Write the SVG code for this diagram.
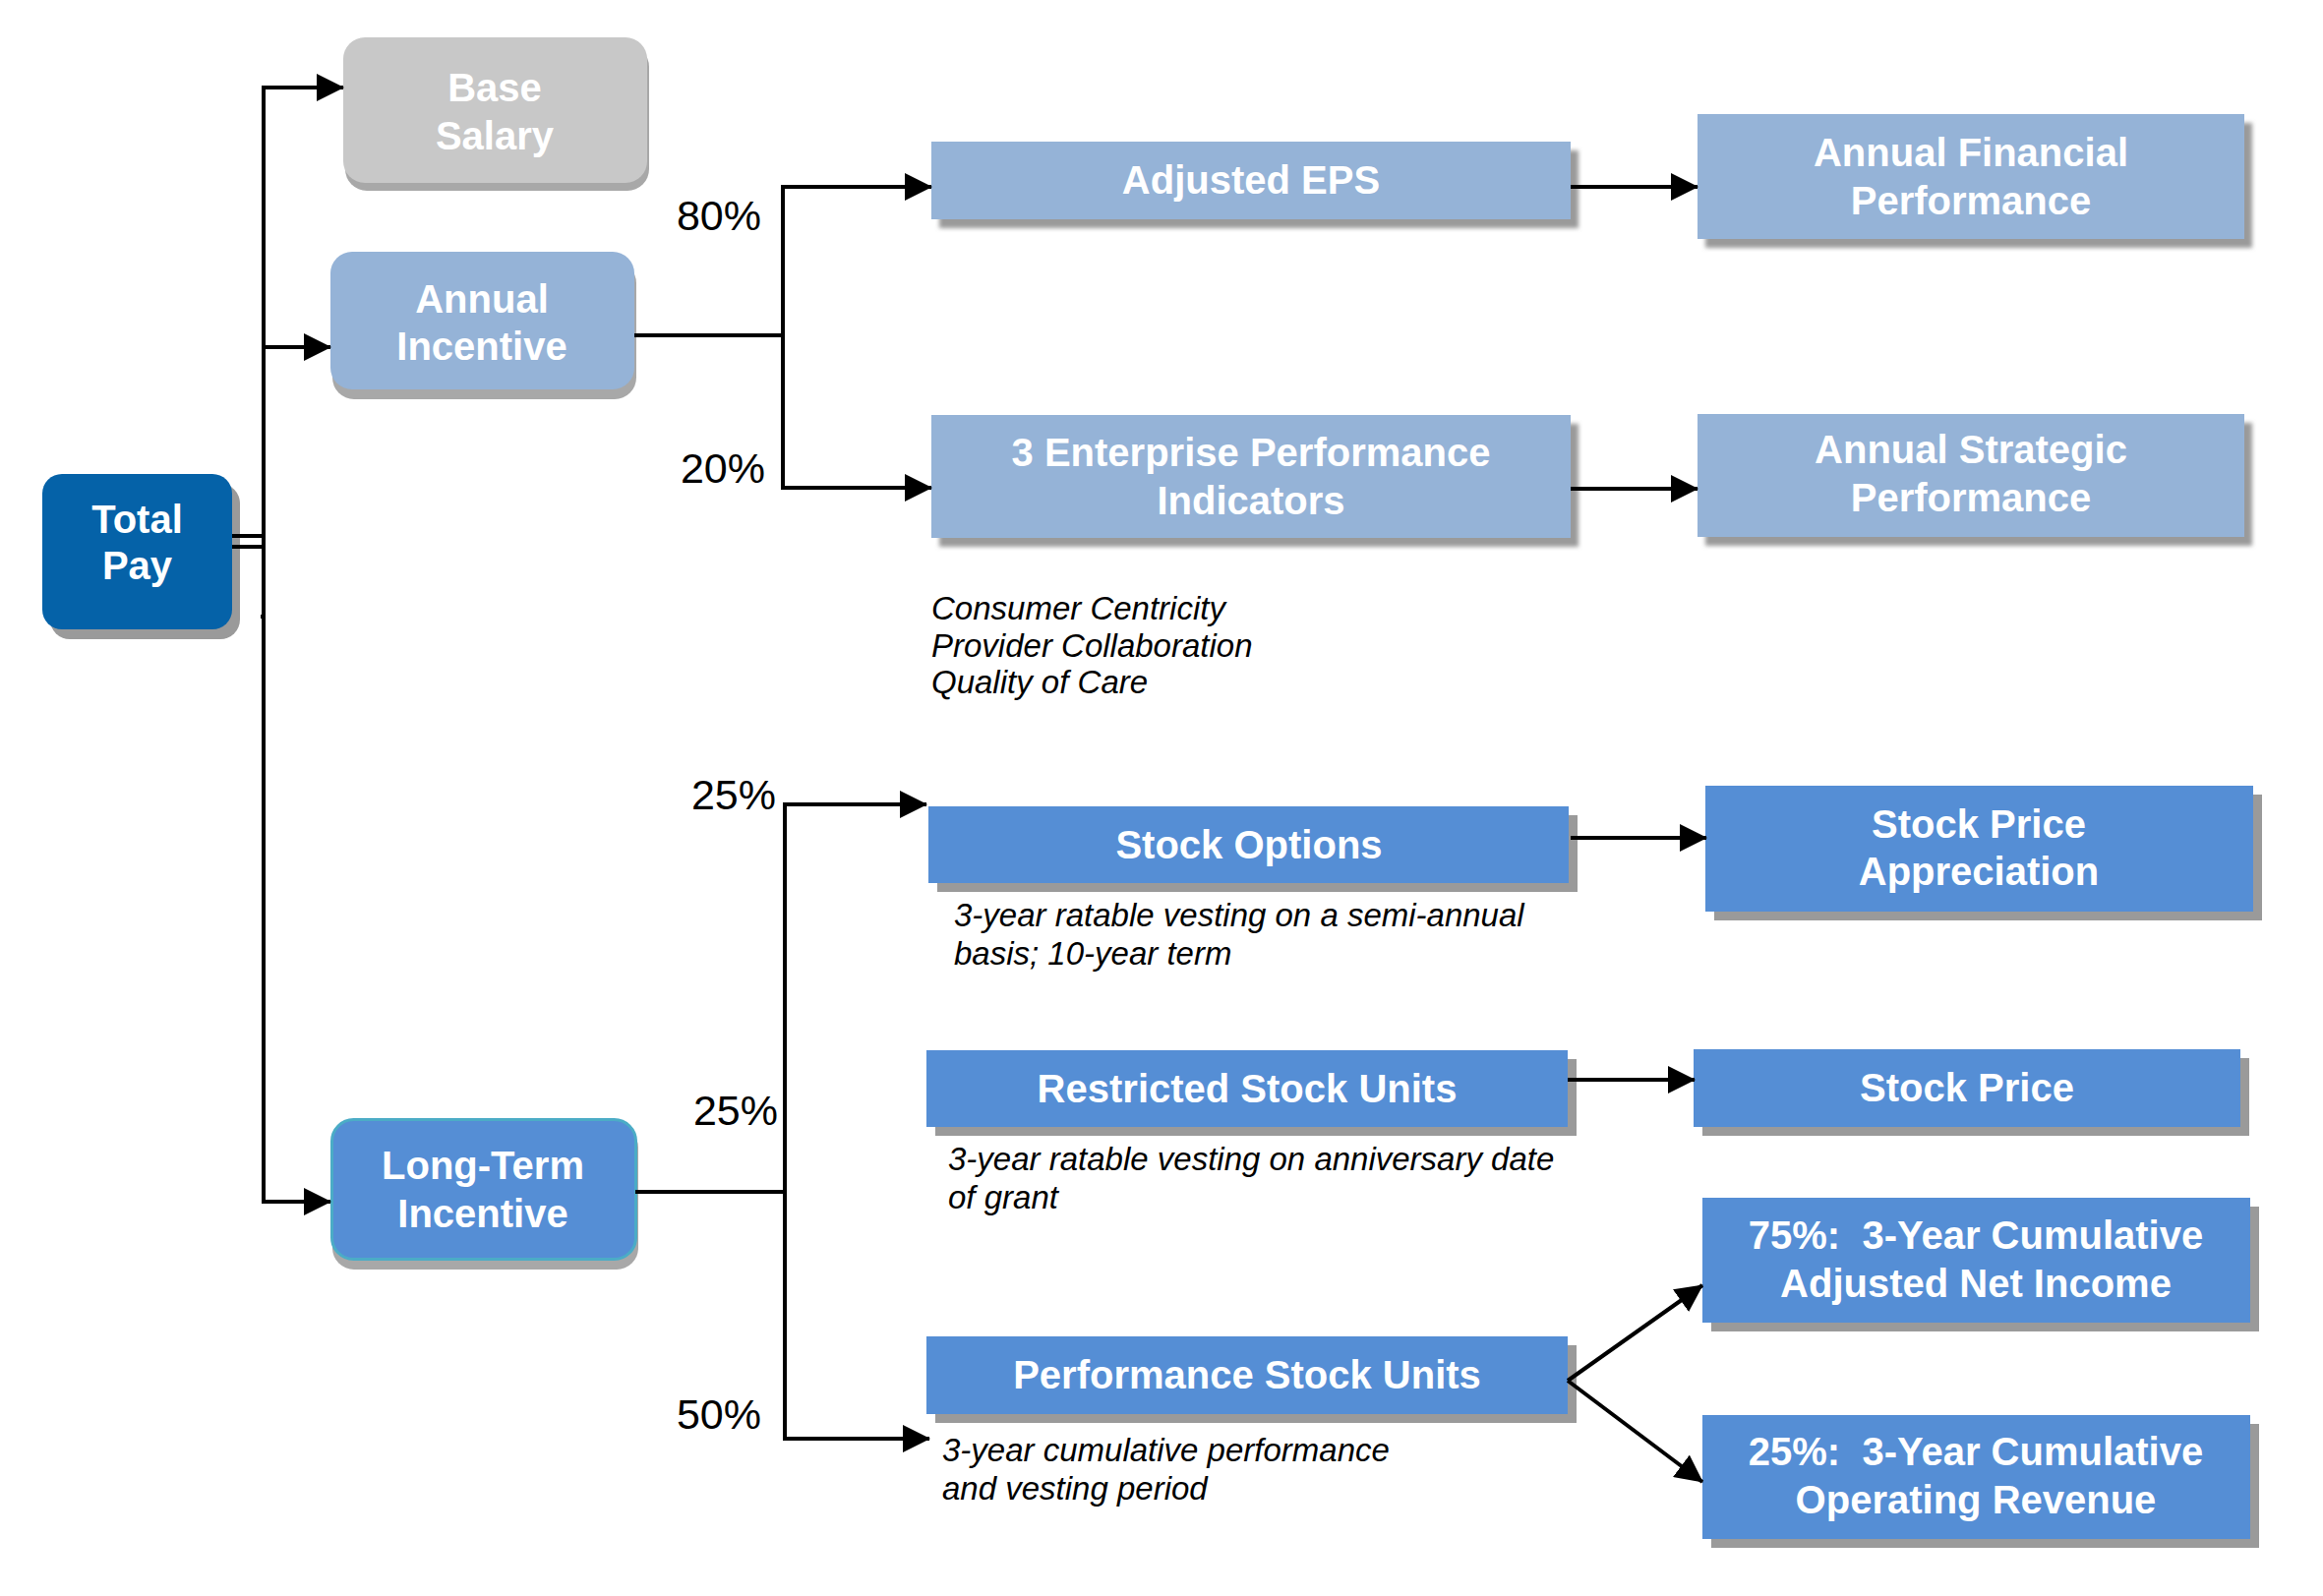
<svg xmlns="http://www.w3.org/2000/svg" width="2362" height="1623" viewBox="0 0 2362 1623">
<defs>
<style>
.lbl{font-family:"Liberation Sans",Arial,sans-serif;font-weight:bold;font-size:40px;fill:#fff;text-anchor:middle}
.pct{font-family:"Liberation Sans",Arial,sans-serif;font-size:43px;fill:#000;text-anchor:end}
.note{font-family:"Liberation Sans",Arial,sans-serif;font-style:italic;font-size:33px;fill:#000}
.sh{fill:#9a9a9a}
.lb{fill:#95B3D7}
.mb{fill:#558ED5}
.conn{fill:none;stroke:#000;stroke-width:4}
</style>
<filter id="blur" x="-5%" y="-10%" width="110%" height="120%"><feGaussianBlur stdDeviation="2"/></filter>
<marker id="ah" markerUnits="userSpaceOnUse" markerWidth="28" markerHeight="28" viewBox="0 0 28 28" refX="27" refY="14" orient="auto"><path d="M0,0 L28,14 L0,28 Z" fill="#000"/></marker>
</defs>
<rect width="2362" height="1623" fill="#fff"/>

<g id="total-pay">
<rect x="51" y="492" width="193" height="158" rx="20" class="sh"/>
<rect x="43" y="482" width="193" height="158" rx="20" fill="#0562A8"/>
<text class="lbl" x="139.5" y="542">Total</text>
<text class="lbl" x="139.5" y="589">Pay</text>
</g>

<g id="base-salary">
<rect x="351" y="46" width="309" height="148" rx="22" fill="#a8a8a8"/>
<rect x="349" y="38" width="309" height="148" rx="22" fill="#C8C8C8"/>
<text class="lbl" x="503" y="103">Base</text>
<text class="lbl" x="503" y="152">Salary</text>
</g>

<g id="annual-incentive">
<rect x="338" y="266" width="309" height="140" rx="22" fill="#a8a8a8"/>
<rect x="336" y="256" width="309" height="140" rx="22" class="lb"/>
<text class="lbl" x="490" y="318">Annual</text>
<text class="lbl" x="490" y="366">Incentive</text>
</g>

<g id="long-term-incentive">
<rect x="338" y="1145" width="311" height="146" rx="22" fill="#a8a8a8"/>
<rect x="337.5" y="1138.5" width="309" height="142" rx="22" class="mb" stroke="#4BACC6" stroke-width="3"/>
<text class="lbl" x="491" y="1199">Long-Term</text>
<text class="lbl" x="491" y="1248">Incentive</text>
</g>

<g id="adjusted-eps">
<rect x="955" y="153" width="650" height="79" class="sh" filter="url(#blur)"/>
<rect x="947" y="144" width="650" height="79" class="lb"/>
<text class="lbl" x="1272" y="197">Adjusted EPS</text>
</g>

<g id="annual-financial-performance">
<rect x="1734" y="125" width="556" height="127" class="sh" filter="url(#blur)"/>
<rect x="1726" y="116" width="556" height="127" class="lb"/>
<text class="lbl" x="2004" y="169">Annual Financial</text>
<text class="lbl" x="2004" y="218">Performance</text>
</g>

<g id="enterprise-performance-indicators">
<rect x="955" y="431" width="650" height="125" class="sh" filter="url(#blur)"/>
<rect x="947" y="422" width="650" height="125" class="lb"/>
<text class="lbl" x="1272" y="474">3 Enterprise Performance</text>
<text class="lbl" x="1272" y="523">Indicators</text>
</g>

<g id="annual-strategic-performance">
<rect x="1734" y="430" width="556" height="125" class="sh" filter="url(#blur)"/>
<rect x="1726" y="421" width="556" height="125" class="lb"/>
<text class="lbl" x="2004" y="471">Annual Strategic</text>
<text class="lbl" x="2004" y="520">Performance</text>
</g>

<g id="epi-notes">
<text class="note" x="947" y="630">Consumer Centricity</text>
<text class="note" x="947" y="668">Provider Collaboration</text>
<text class="note" x="947" y="705">Quality of Care</text>
</g>

<g id="stock-options">
<rect x="953" y="829" width="651" height="78" class="sh"/>
<rect x="944" y="820" width="651" height="78" class="mb"/>
<text class="lbl" x="1270" y="873">Stock Options</text>
<text class="note" x="970" y="942">3-year ratable vesting on a semi-annual</text>
<text class="note" x="970" y="981">basis; 10-year term</text>
</g>

<g id="stock-price-appreciation">
<rect x="1743" y="808" width="557" height="128" class="sh"/>
<rect x="1734" y="799" width="557" height="128" class="mb"/>
<text class="lbl" x="2012" y="852">Stock Price</text>
<text class="lbl" x="2012" y="900">Appreciation</text>
</g>

<g id="restricted-stock-units">
<rect x="951" y="1077" width="652" height="78" class="sh"/>
<rect x="942" y="1068" width="652" height="78" class="mb"/>
<text class="lbl" x="1268" y="1121">Restricted Stock Units</text>
<text class="note" x="964" y="1190">3-year ratable vesting on anniversary date</text>
<text class="note" x="964" y="1229">of grant</text>
</g>

<g id="stock-price">
<rect x="1731" y="1076" width="556" height="79" class="sh"/>
<rect x="1722" y="1067" width="556" height="79" class="mb"/>
<text class="lbl" x="2000" y="1120">Stock Price</text>
</g>

<g id="performance-stock-units">
<rect x="951" y="1368" width="652" height="79" class="sh"/>
<rect x="942" y="1359" width="652" height="79" class="mb"/>
<text class="lbl" x="1268" y="1412">Performance Stock Units</text>
<text class="note" x="958" y="1486">3-year cumulative performance</text>
<text class="note" x="958" y="1525">and vesting period</text>
</g>

<g id="adjusted-net-income">
<rect x="1740" y="1227" width="557" height="127" class="sh"/>
<rect x="1731" y="1218" width="557" height="127" class="mb"/>
<text class="lbl" x="2009" y="1270">75%:&#160; 3-Year Cumulative</text>
<text class="lbl" x="2009" y="1319">Adjusted Net Income</text>
</g>

<g id="operating-revenue">
<rect x="1740" y="1448" width="557" height="126" class="sh"/>
<rect x="1731" y="1439" width="557" height="126" class="mb"/>
<text class="lbl" x="2009" y="1490">25%:&#160; 3-Year Cumulative</text>
<text class="lbl" x="2009" y="1539">Operating Revenue</text>
</g>

<g id="percent-labels">
<text class="pct" x="774" y="234">80%</text>
<text class="pct" x="778" y="491">20%</text>
<text class="pct" x="789" y="823">25%</text>
<text class="pct" x="791" y="1144">25%</text>
<text class="pct" x="774" y="1453">50%</text>
</g>

<g id="connectors">
<path class="conn" d="M268,1224 V89 H349" marker-end="url(#ah)"/>
<path class="conn" d="M268,353 H336" marker-end="url(#ah)"/>
<path class="conn" d="M268,1222 H336" marker-end="url(#ah)"/>
<path class="conn" d="M236,545 H268 M236,556 H268"/>
<path class="conn" d="M265,627 H268"/>
<path class="conn" d="M645,341 H796"/>
<path class="conn" d="M796,343 V190 H947" marker-end="url(#ah)"/>
<path class="conn" d="M796,339 V496 H947" marker-end="url(#ah)"/>
<path class="conn" d="M1597,190 H1726" marker-end="url(#ah)"/>
<path class="conn" d="M1597,497 H1726" marker-end="url(#ah)"/>
<path class="conn" d="M646,1212 H798"/>
<path class="conn" d="M798,1214 V818 H942" marker-end="url(#ah)"/>
<path class="conn" d="M798,1210 V1463 H945" marker-end="url(#ah)"/>
<path class="conn" d="M1597,852 H1735" marker-end="url(#ah)"/>
<path class="conn" d="M1594,1098 H1723" marker-end="url(#ah)"/>
<path class="conn" d="M1594,1404 L1731,1307" marker-end="url(#ah)"/>
<path class="conn" d="M1594,1404 L1731,1507" marker-end="url(#ah)"/>
</g>
</svg>
